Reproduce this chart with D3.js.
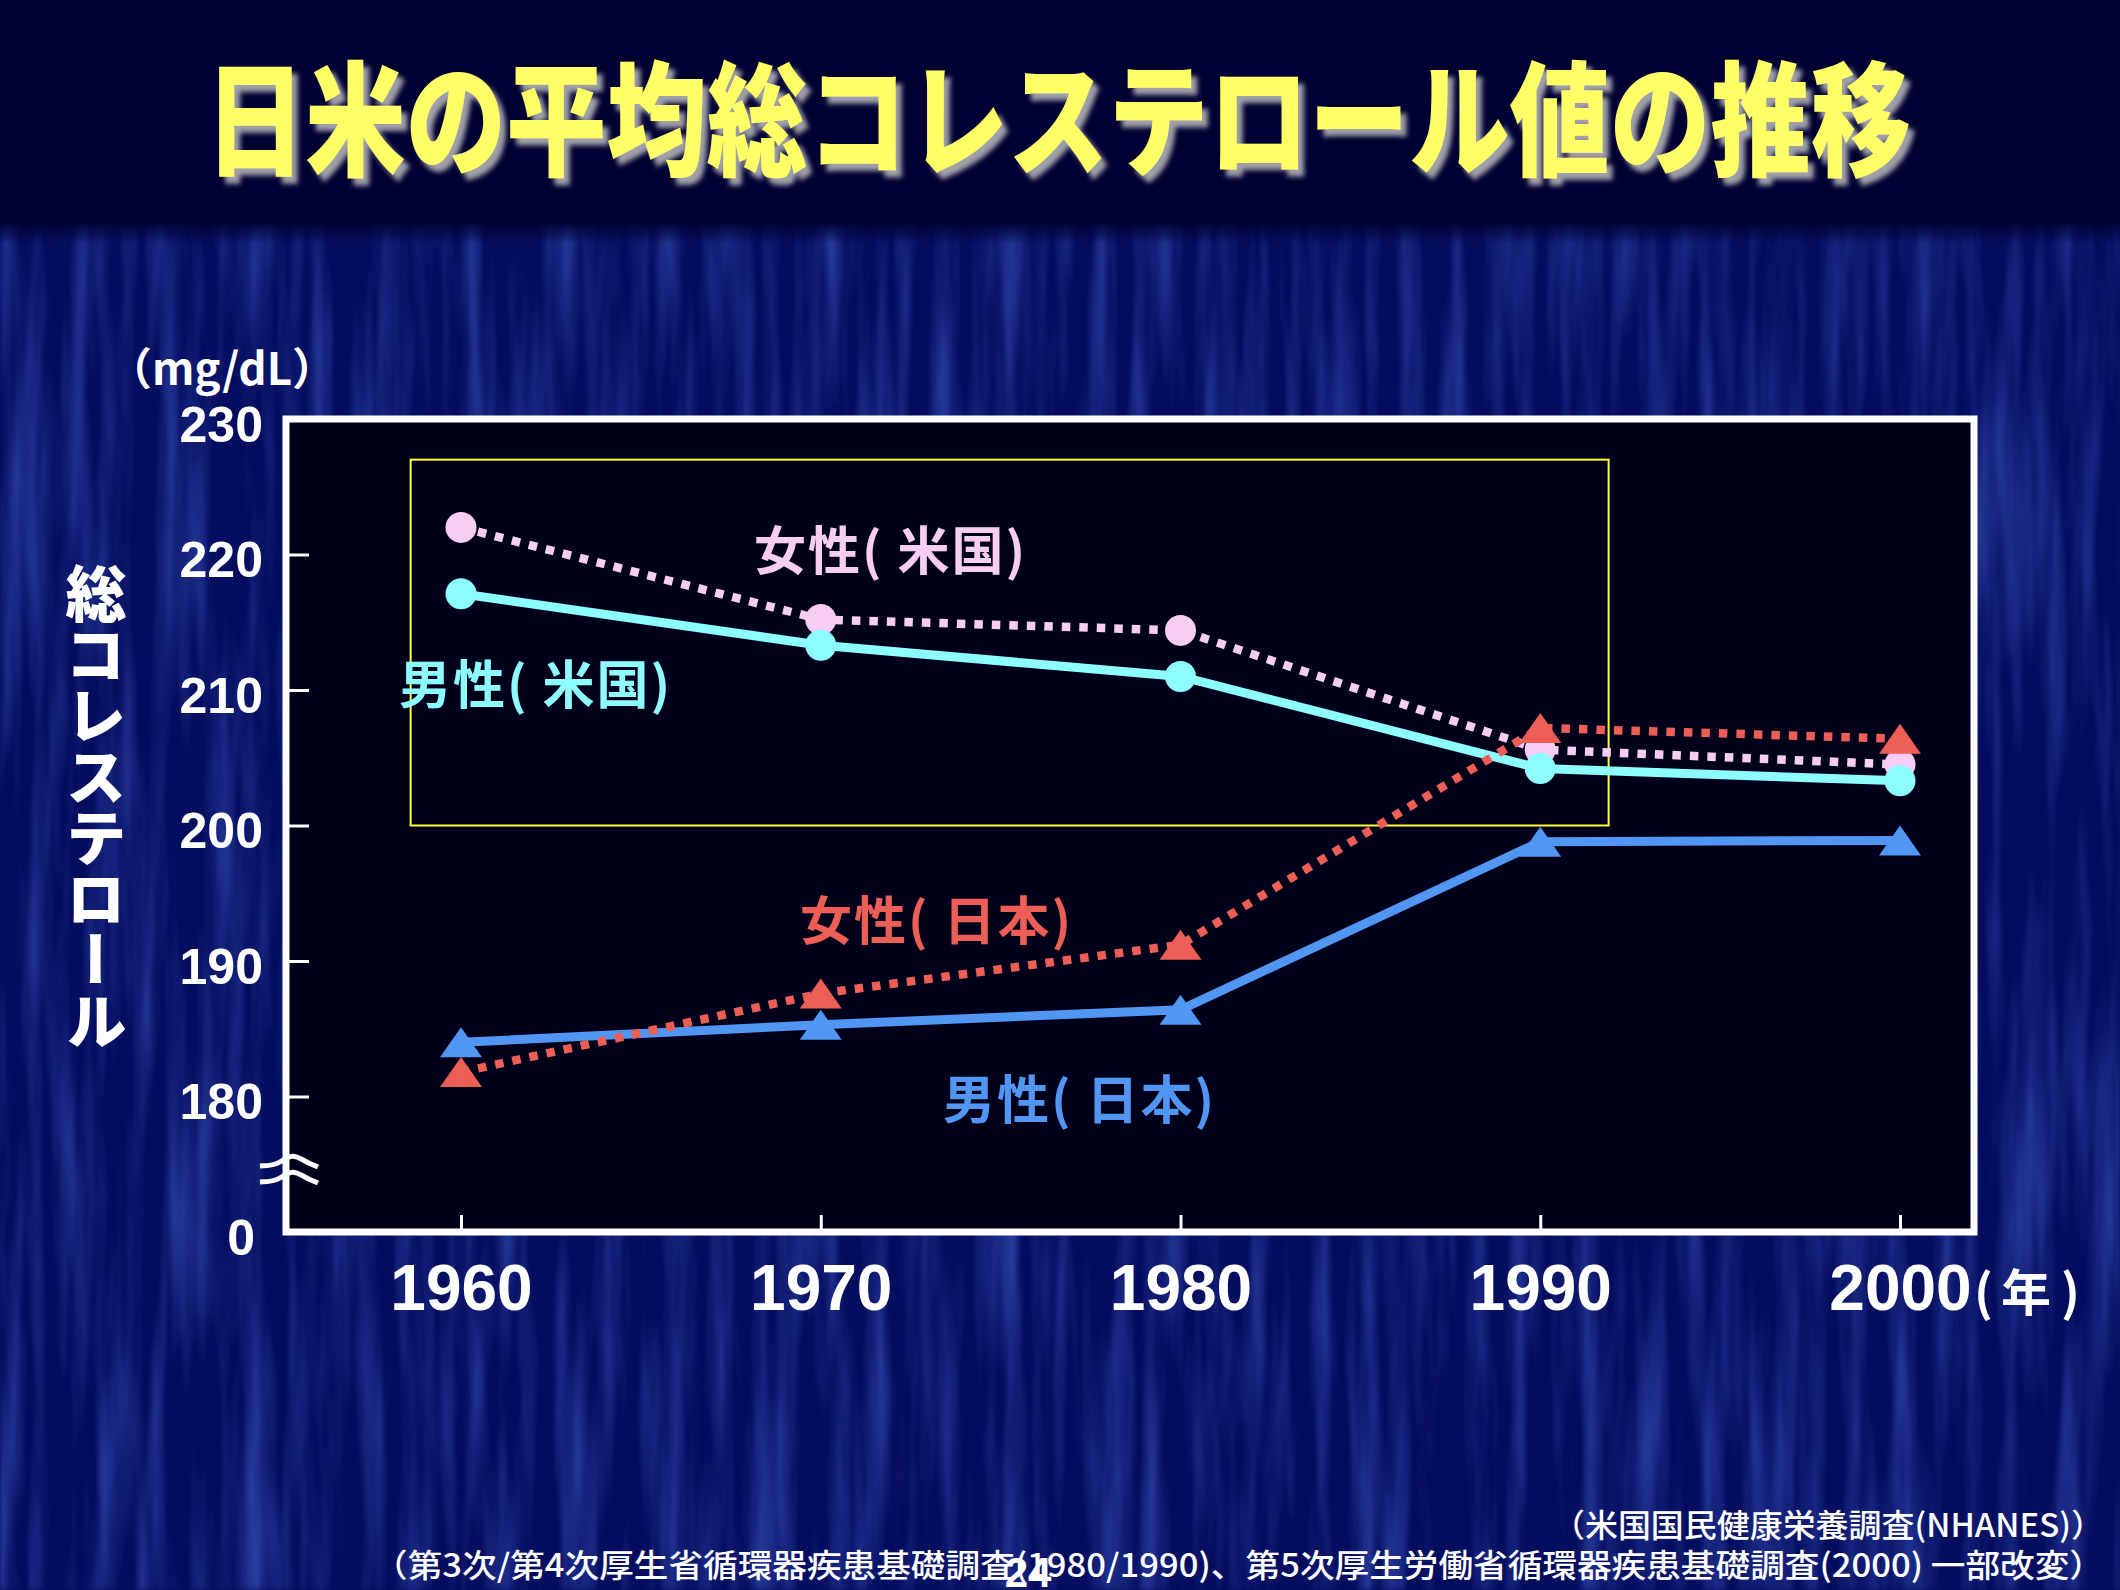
<!DOCTYPE html>
<html>
<head>
<meta charset="utf-8">
<script src="https://cdn.jsdelivr.net/npm/d3@7"></script>
<style>
  html, body { margin: 0; padding: 0; background: #000033; }
  svg { display: block; }
</style>
</head>
<body>
<svg id="chart" width="2120" height="1590"></svg>
<script>
const years = [1960, 1970, 1980, 1990, 2000]
const womenUS = [222.0, 215.2, 214.4, 205.6, 204.5]
const menUS = [217.1, 213.3, 211.0, 204.2, 203.3]
const womenJP = [181.8, 187.6, 191.2, 207.2, 206.4]
const menJP = [184.0, 185.3, 186.4, 198.8, 198.9]
const yTicks = [170, 180, 190, 200, 210, 220, 230]
const yTickLabels = ['0', '180', '190', '200', '210', '220', '230']
const highlightBox = { x0: 1958.6, x1: 1991.9, y0: 200, y1: 227.0 }
const breakAt = 174.5

const series = [
    { name: '女性( 米国)', values: womenUS, color: '#f7ccf5', dotted: true, marker: 'circle', lx: 754, ly: 547 },
    { name: '男性( 米国)', values: menUS, color: '#8cfcfc', dotted: false, marker: 'circle', lx: 399, ly: 681 },
    { name: '男性( 日本)', values: menJP, color: '#5096f2', dotted: false, marker: 'triangle', lx: 943, ly: 1096 },
    { name: '女性( 日本)', values: womenJP, color: '#ec5e56', dotted: true, marker: 'triangle', lx: 800, ly: 917 }
]

const jp = '"Noto Sans CJK JP", "Noto Sans CJK SC", sans-serif'
const latin = '"Liberation Sans", Arial, sans-serif'

const svg = d3.select('#chart')
const frame = { left: 286, right: 1974, top: 419, bottom: 1232 }

const x = d3.scaleLinear().domain([1960, 2000]).range([461, 1900])
const y = d3.scaleLinear().domain([170, 230]).range([frame.bottom, frame.top])

// background: dark band on top, streaky blue below
const defs = svg.append('defs')
const f = defs.append('filter').attr('id', 'streaks')
    .attr('x', 0).attr('y', 0).attr('width', '100%').attr('height', '100%')
f.append('feTurbulence').attr('type', 'fractalNoise')
    .attr('baseFrequency', '0.045 0.003').attr('numOctaves', 4).attr('seed', 11)
f.append('feColorMatrix').attr('type', 'matrix')
    .attr('values', '0 0 0 0 0.04  0 0 0 0 0.09  0 0 0 0 0.52  1.3 0 0 0 -0.52')
f.append('feGaussianBlur').attr('stdDeviation', '1.5 3')
f.append('feComposite').attr('in2', 'SourceGraphic').attr('operator', 'in')

const shadow = defs.append('filter').attr('id', 'shadow')
    .attr('x', '-5%').attr('y', '-30%').attr('width', '110%').attr('height', '160%')
shadow.append('feGaussianBlur').attr('in', 'SourceAlpha').attr('stdDeviation', 2.5).attr('result', 'b')
shadow.append('feOffset').attr('in', 'b').attr('dx', 6).attr('dy', 7).attr('result', 'o')
shadow.append('feFlood').attr('flood-color', '#a0a0a8')
shadow.append('feComposite').attr('in2', 'o').attr('operator', 'in').attr('result', 's')
const merge = shadow.append('feMerge')
merge.append('feMergeNode').attr('in', 's')
merge.append('feMergeNode').attr('in', 'SourceGraphic')

const fade = defs.append('linearGradient').attr('id', 'fade')
    .attr('x1', 0).attr('y1', 0).attr('x2', 0).attr('y2', 1)
fade.append('stop').attr('offset', '0%').attr('stop-color', '#000033')
fade.append('stop').attr('offset', '100%').attr('stop-color', '#000033').attr('stop-opacity', 0)

svg.append('rect').attr('width', 2120).attr('height', 1590).attr('fill', '#050d5e')
svg.append('rect').attr('y', 215).attr('width', 2120).attr('height', 1375)
    .attr('fill', '#ffffff').attr('filter', 'url(#streaks)')
svg.append('rect').attr('width', 2120).attr('height', 222).attr('fill', '#000033')
svg.append('rect').attr('y', 222).attr('width', 2120).attr('height', 22).attr('fill', 'url(#fade)')

// title
svg.append('text')
    .attr('x', 205).attr('y', 166)
    .attr('textLength', 1706).attr('lengthAdjust', 'spacingAndGlyphs')
    .attr('font-family', jp).attr('font-weight', 900).attr('font-size', 124)
    .attr('fill', '#ffff66').attr('filter', 'url(#shadow)')
    .text('日米の平均総コレステロール値の推移')

// plot frame
svg.append('rect')
    .attr('x', frame.left).attr('y', frame.top)
    .attr('width', frame.right - frame.left).attr('height', frame.bottom - frame.top)
    .attr('fill', '#00001a').attr('stroke', '#ffffff').attr('stroke-width', 7)

// highlight box
svg.append('rect')
    .attr('x', x(highlightBox.x0)).attr('y', y(highlightBox.y1))
    .attr('width', x(highlightBox.x1) - x(highlightBox.x0))
    .attr('height', y(highlightBox.y0) - y(highlightBox.y1))
    .attr('fill', 'none').attr('stroke', '#ffff33').attr('stroke-width', 2)

// axes
const yAxis = d3.axisLeft(y).tickValues(yTicks)
    .tickFormat((d, i) => yTickLabels[i])
    .tickSizeInner(-23).tickSizeOuter(0).tickPadding(23)
const gy = svg.append('g').attr('transform', `translate(${frame.left},0)`).call(yAxis)
gy.select('.domain').remove()
gy.selectAll('line').attr('stroke', '#ffffff').attr('stroke-width', 3)
gy.selectAll('text')
    .attr('fill', '#ffffff').attr('font-family', latin).attr('font-weight', 'bold')
    .attr('font-size', 50).attr('dy', '0.44em')
    .attr('dx', d => d === 170 ? -8 : 0)

const xAxis = d3.axisBottom(x).tickValues(years).tickFormat(d3.format('d'))
    .tickSizeInner(-17).tickSizeOuter(0).tickPadding(33)
const gx = svg.append('g').attr('transform', `translate(0,${frame.bottom})`).call(xAxis)
gx.select('.domain').remove()
gx.selectAll('line').attr('stroke', '#ffffff').attr('stroke-width', 3)
gx.selectAll('text')
    .attr('fill', '#ffffff').attr('font-family', latin).attr('font-weight', 'bold')
    .attr('font-size', 64)

// axis break mark
const by = y(breakAt)
const wave = d3.line().curve(d3.curveBasis)
;[-8, 8].forEach(off => {
    svg.append('path')
        .attr('d', wave([[frame.left - 26, by + off + 3], [frame.left - 8, by + off + 2],
            [frame.left + 6, by + off - 10], [frame.left + 18, by + off - 2], [frame.left + 32, by + off + 4]]))
        .attr('fill', 'none').attr('stroke', '#ffffff').attr('stroke-width', 5)
})

// lines
const line = d3.line().x((d, i) => x(years[i])).y(d => y(d))
const triangle = 'M0,-15L21,15L-21,15Z'

series.forEach(s => {
    svg.append('path')
        .datum(s.values)
        .attr('d', line)
        .attr('fill', 'none')
        .attr('stroke', s.color)
        .attr('stroke-width', s.dotted ? 8.5 : 9)
        .attr('stroke-dasharray', s.dotted ? '8.5,9' : null)
})

series.forEach(s => {
    const g = svg.append('g')
    if (s.marker === 'circle') {
        g.selectAll('circle').data(s.values).join('circle')
            .attr('cx', (d, i) => x(years[i])).attr('cy', d => y(d))
            .attr('r', 15.5).attr('fill', s.color)
    } else {
        g.selectAll('path').data(s.values).join('path')
            .attr('d', triangle)
            .attr('transform', (d, i) => `translate(${x(years[i])},${y(d)})`)
            .attr('fill', s.color)
    }
})

// series labels
series.forEach(s => {
    svg.append('text')
        .attr('x', s.lx).attr('y', s.ly)
        .attr('dominant-baseline', 'central')
        .attr('font-family', jp).attr('font-weight', 'bold').attr('font-size', 52)
        .attr('letter-spacing', 2)
        .attr('fill', s.color)
        .text(s.name)
})

// unit labels
svg.append('text')
    .attr('x', 222).attr('y', 366).attr('text-anchor', 'middle')
    .attr('dominant-baseline', 'central')
    .attr('font-family', jp).attr('font-weight', 'bold').attr('font-size', 44)
    .attr('fill', '#ffffff')
    .text('（mg/dL）')

const yearUnit = svg.append('text')
    .attr('y', 1311)
    .attr('font-family', jp).attr('font-weight', 'bold').attr('font-size', 50)
    .attr('fill', '#ffffff')
yearUnit.append('tspan').attr('x', 1974).text('(')
yearUnit.append('tspan').attr('x', 2001).text('年')
yearUnit.append('tspan').attr('x', 2061).text(')')

// y title (vertical)
svg.append('text')
    .attr('x', 96).attr('y', 563)
    .style('writing-mode', 'vertical-rl')
    .attr('font-family', jp).attr('font-weight', 900).attr('font-size', 61)
    .attr('fill', '#ffffff')
    .text('総コレステロール')

// sources
svg.append('text')
    .attr('x', 2104).attr('y', 1537).attr('text-anchor', 'end')
    .attr('textLength', 552).attr('lengthAdjust', 'spacingAndGlyphs')
    .attr('font-family', jp).attr('font-weight', 500).attr('font-size', 32).attr('fill', '#ffffff')
    .text('（米国国民健康栄養調査(NHANES)）')

svg.append('text')
    .attr('x', 2104).attr('y', 1577).attr('text-anchor', 'end')
    .attr('textLength', 1731).attr('lengthAdjust', 'spacingAndGlyphs')
    .attr('font-family', jp).attr('font-weight', 500).attr('font-size', 32).attr('fill', '#ffffff')
    .text('（第3次/第4次厚生省循環器疾患基礎調査(1980/1990)、第5次厚生労働省循環器疾患基礎調査(2000) 一部改変）')

svg.append('text')
    .attr('x', 1028).attr('y', 1587).attr('text-anchor', 'middle')
    .attr('font-family', latin).attr('font-weight', 'bold').attr('font-size', 42)
    .attr('fill', '#ffffff')
    .text('24')
</script>
</body>
</html>
